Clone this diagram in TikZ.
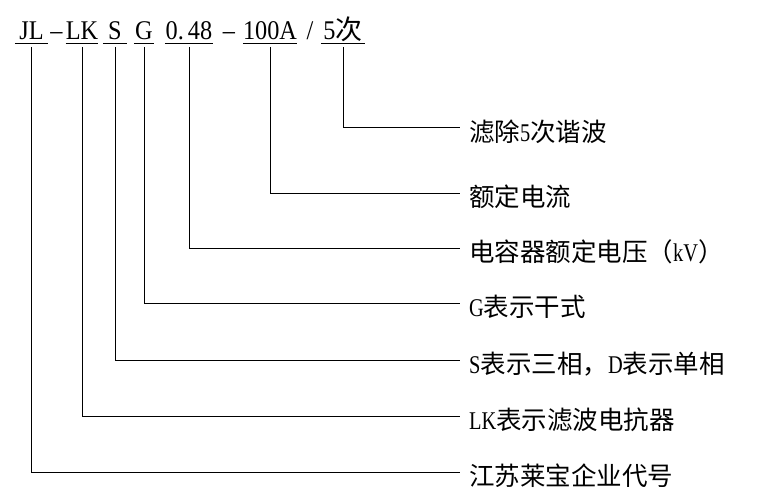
\documentclass[tikz,border=0pt]{standalone}
\usepackage{fontspec}
\setmainfont{Liberation Serif}
\newfontfamily\cjk{Noto Sans CJK SC}
\newfontfamily\codefont[FakeStretch=0.9]{Liberation Serif}
\newfontfamily\narrowfont[FakeStretch=0.8]{Liberation Serif}
\tikzset{
  code/.style={inner sep=0pt, anchor=base, font=\codefont\fontsize{27}{32}\selectfont},
  lbl/.style={inner ysep=0pt, inner xsep=9pt, anchor=west, font=\narrowfont\fontsize{25.5}{30}\selectfont},
  link/.style={line width=1pt},
  uline/.style={line width=1pt}
}
\begin{document}
\begin{tikzpicture}[x=1pt,y=-1pt]
\useasboundingbox (0,0) rectangle (767,497);
% code line
\node[code, minimum width=33pt] (jl) at (31.5,40) {JL};
\node[code] (d1) at (56.5,40) {–};
\node[code, minimum width=30pt] (lk) at (82,40) {LK};
\node[code, minimum width=24pt] (s) at (115,40) {S};
\node[code, minimum width=20pt] (g) at (144,40) {G};
\node[code, minimum width=48pt] (v) at (189,40) {0.\kern4pt 48};
\node[code] (d2) at (229,40) {–};
\node[code, minimum width=54pt] (a) at (270,40) {100A};
\node[code] (sl) at (310,40) {/};
\node[code, minimum width=44pt] (h) at (343,40) {5{\cjk 次}};
\foreach \n in {jl,lk,s,g,v,a,h}{
  \draw[uline] ([yshift=-4pt]\n.base west) -- ([yshift=-4pt]\n.base east);
}
% labels
\node[lbl] (lh) at (460,132) {{\cjk 滤除}5{\cjk 次谐波}};
\node[lbl] (la) at (460,197) {{\cjk 额定电流}};
\node[lbl] (lv) at (460,252) {{\cjk 电容器额定电压（}kV{\cjk ）}};
\node[lbl] (lg) at (460,307) {G{\cjk 表示干式}};
\node[lbl] (ls) at (460,364) {S{\cjk 表示三相，}D{\cjk 表示单相}};
\node[lbl] (llk) at (460,420) {LK{\cjk 表示滤波电抗器}};
\node[lbl] (ljl) at (460,476) {{\cjk 江苏莱宝企业代号}};
% connectors
\draw[link] ([yshift=-7pt]h.base) |- ([yshift=4pt]lh.west);
\draw[link] ([yshift=-7pt]a.base) |- ([yshift=4pt]la.west);
\draw[link] ([yshift=-7pt]v.base) |- ([yshift=4pt]lv.west);
\draw[link] ([yshift=-7pt]g.base) |- ([yshift=4pt]lg.west);
\draw[link] ([yshift=-7pt]s.base) |- ([yshift=4pt]ls.west);
\draw[link] ([yshift=-7pt]lk.base) |- ([yshift=4pt]llk.west);
\draw[link] ([yshift=-7pt]jl.base) |- ([yshift=4pt]ljl.west);
\end{tikzpicture}
\end{document}
